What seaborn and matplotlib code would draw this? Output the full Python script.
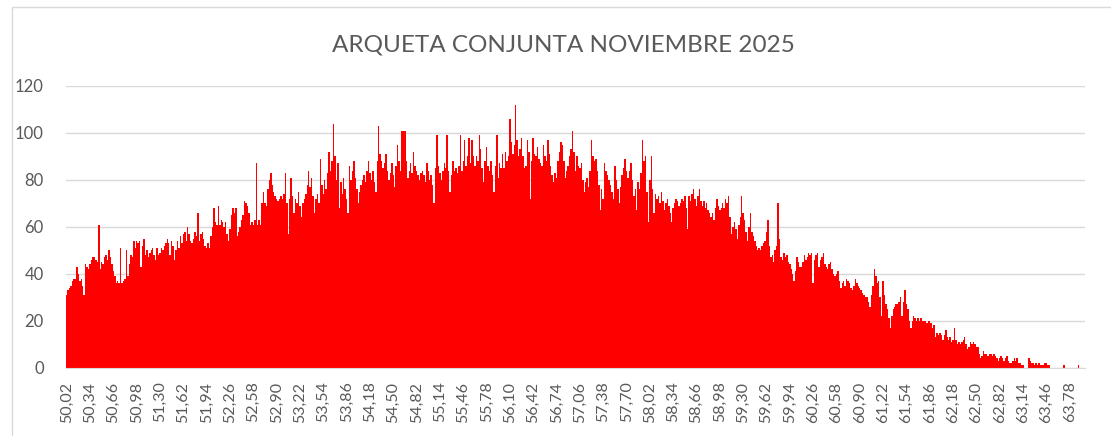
import numpy as np
import pandas as pd
import seaborn as sns
import matplotlib.pyplot as plt
from matplotlib.patches import Rectangle

## Data: count per price (0,02 steps from 50,02)
first_price = 50.02
price_step = 0.02
tick_every = 16

counts = [
    31, 33, 34, 35, 37, 38, 38, 43, 40, 37,
    38, 35, 31, 44, 43, 42, 44, 46, 47, 47,
    46, 45, 61, 42, 45, 44, 47, 48, 46, 50,
    47, 44, 41, 39, 36, 37, 36, 51, 36, 37,
    38, 50, 39, 44, 48, 47, 54, 51, 54, 53,
    54, 43, 52, 55, 48, 50, 47, 49, 50, 51,
    48, 46, 51, 48, 49, 51, 50, 52, 53, 55,
    53, 48, 54, 52, 46, 50, 54, 51, 56, 53,
    57, 58, 54, 60, 57, 54, 53, 55, 58, 56,
    66, 54, 57, 58, 55, 52, 51, 53, 51, 56,
    60, 68, 62, 61, 69, 61, 63, 62, 60, 62,
    57, 54, 59, 65, 68, 66, 68, 56, 58, 60,
    63, 65, 71, 70, 69, 66, 61, 62, 61, 63,
    87, 61, 63, 61, 70, 75, 70, 69, 76, 80,
    83, 78, 75, 73, 72, 71, 72, 73, 72, 74,
    83, 70, 57, 72, 81, 73, 66, 72, 70, 75,
    69, 64, 70, 72, 74, 78, 84, 77, 81, 73,
    66, 72, 74, 70, 89, 78, 74, 80, 76, 83,
    92, 84, 88, 104, 90, 80, 87, 68, 79, 74,
    81, 76, 72, 66, 86, 80, 84, 88, 81, 76,
    70, 75, 78, 80, 82, 79, 84, 88, 83, 80,
    84, 79, 75, 88, 103, 91, 88, 85, 87, 91,
    84, 80, 83, 87, 82, 77, 86, 95, 88, 84,
    101, 101, 101, 88, 81, 84, 87, 83, 92, 86,
    84, 82, 80, 83, 84, 82, 79, 87, 84, 80,
    82, 78, 70, 85, 99, 86, 83, 80, 84, 87,
    85, 99, 84, 75, 82, 88, 84, 85, 83, 86,
    99, 84, 88, 97, 86, 90, 98, 87, 97, 90,
    86, 90, 88, 99, 93, 85, 79, 88, 94, 86,
    84, 88, 82, 75, 86, 99, 81, 87, 85, 91,
    85, 92, 88, 90, 106, 96, 91, 95, 112, 97,
    90, 93, 98, 90, 85, 86, 97, 92, 72, 88,
    98, 91, 90, 94, 89, 87, 86, 95, 90, 88,
    97, 91, 86, 82, 79, 83, 81, 88, 92, 96,
    95, 88, 81, 84, 86, 90, 93, 101, 92, 84,
    90, 86, 85, 87, 80, 75, 79, 81, 77, 84,
    97, 90, 88, 89, 84, 78, 67, 76, 72, 87,
    84, 82, 80, 78, 75, 72, 86, 80, 76, 70,
    77, 82, 85, 89, 84, 81, 84, 87, 80, 73,
    76, 67, 79, 76, 83, 97, 88, 90, 75, 62,
    80, 90, 76, 66, 74, 72, 73, 70, 75, 71,
    67, 70, 72, 69, 66, 62, 68, 70, 72, 71,
    69, 70, 72, 71, 73, 68, 59, 73, 71, 74,
    76, 72, 69, 73, 76, 71, 69, 71, 68, 70,
    67, 66, 64, 66, 63, 68, 72, 69, 67, 68,
    70, 68, 72, 70, 73, 64, 57, 60, 62, 59,
    55, 61, 64, 73, 66, 63, 58, 54, 60, 66,
    58, 56, 54, 52, 50, 51, 50, 52, 53, 54,
    58, 63, 52, 47, 48, 45, 50, 52, 70, 55,
    47, 46, 49, 47, 48, 45, 44, 42, 40, 37,
    41, 47, 45, 43, 43, 45, 48, 46, 47, 49,
    48, 49, 36, 46, 48, 49, 43, 46, 47, 49,
    44, 43, 42, 44, 45, 42, 40, 39, 40, 41,
    37, 34, 36, 37, 35, 38, 37, 36, 34, 33,
    35, 38, 36, 35, 34, 33, 32, 31, 30, 30,
    28, 26, 31, 35, 42, 39, 36, 37, 30, 22,
    37, 31, 27, 25, 21, 17, 22, 25, 26, 27,
    27, 28, 30, 22, 28, 33, 27, 25, 20, 17,
    20, 22, 21, 20, 21, 20, 21, 20, 20, 20,
    19, 20, 20, 19, 17, 18, 13, 15, 14, 15,
    14, 12, 14, 16, 13, 12, 13, 11, 12, 17,
    12, 10, 11, 10, 11, 12, 13, 10, 8, 9,
    11, 10, 11, 10, 9, 9, 6, 4, 5, 7,
    6, 6, 5, 6, 6, 5, 6, 5, 4, 3,
    4, 5, 4, 3, 4, 5, 3, 2, 2, 3,
    4, 3, 4, 2, 2, 1, 1, 0, 0, 0,
    4, 3, 2, 2, 1, 2, 1, 2, 1, 1,
    1, 2, 2, 1, 1, 0, 0, 0, 0, 0,
    0, 0, 0, 0, 1, 0, 0, 0, 0, 0,
    0, 0, 0, 0, 1, 0, 0, 0, 0,
]

prices = np.round(first_price + price_step * np.arange(len(counts)), 2)
labels = [f"{p:.2f}".replace(".", ",") for p in prices]
df = pd.DataFrame({"precio": labels, "n": counts})

## Plot
sns.set_style("white")
plt.rcParams["font.family"] = ["Lato", "DejaVu Sans"]
gray = "#595959"

fig = plt.figure(figsize=(11.11, 4.36), dpi=100)
ax = fig.add_axes([0.0594, 0.1566, 0.9172, 0.6462])

sns.barplot(data=df, x="precio", y="n", color="#ff0000", saturation=1,
            width=1.0, linewidth=0, ax=ax)

ax.set_xlim(-0.5, len(counts) - 0.5)
ax.set_ylim(0, 120)
ax.set_yticks(range(0, 121, 20))
ax.yaxis.grid(True, color="#d9d9d9", linewidth=1)
ax.set_axisbelow(True)

ax.set_xticks(range(0, len(counts), tick_every))
ax.set_xticklabels(labels[::tick_every], rotation=90)
ax.tick_params(axis="x", length=0, pad=10, labelsize=11.5, labelcolor=gray)
ax.tick_params(axis="y", length=0, pad=16, labelsize=12, labelcolor=gray)
ax.set_xlabel("")
ax.set_ylabel("")
for s in ["top", "right", "left"]:
    ax.spines[s].set_visible(False)
ax.spines["bottom"].set_color("#d9d9d9")

fig.text(0.507, 0.897, "ARQUETA CONJUNTA NOVIEMBRE 2025", ha="center",
         va="center", fontsize=17.5, color=gray)

# chart area border
fig.add_artist(Rectangle((12 / 1111, -0.1), 1.2, (436 - 7) / 436 + 0.1,
                         transform=fig.transFigure, fill=False,
                         edgecolor="#d9d9d9", linewidth=1))

fig.savefig("out.png", dpi=100)
